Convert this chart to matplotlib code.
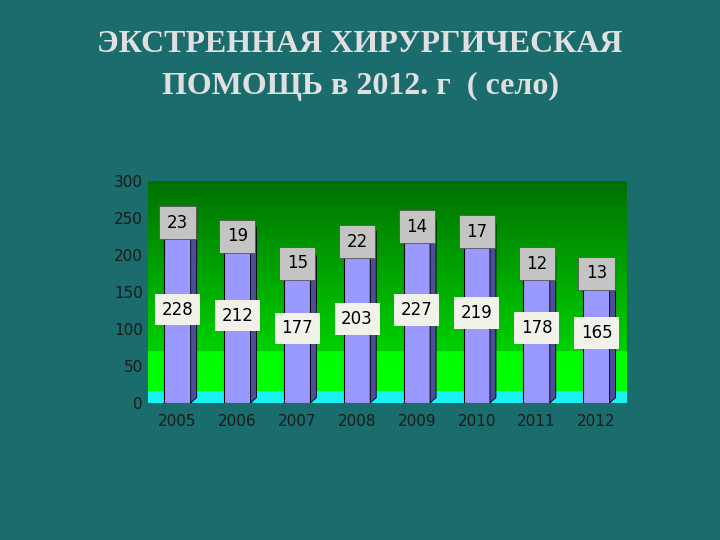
import numpy as np
import matplotlib
matplotlib.use('Agg')
import matplotlib.pyplot as plt
from matplotlib.patches import Polygon

years = ['2005', '2006', '2007', '2008', '2009', '2010', '2011', '2012']
lower = [228, 212, 177, 203, 227, 219, 178, 165]
upper = [23, 19, 15, 22, 14, 17, 12, 13]

fig = plt.figure(figsize=(7.2, 5.4), dpi=100)
fig.patch.set_facecolor('#1b6c6c')
fig.text(0.5, 0.945, 'ЭКСТРЕННАЯ ХИРУРГИЧЕСКАЯ\nПОМОЩЬ в 2012. г  ( село)', ha='center', va='top',
         fontsize=23, family='Liberation Serif', fontweight='bold', color='#e0e0e0', linespacing=1.6)

ax = fig.add_axes([0.205, 0.254, 0.665, 0.411])
ax.set_xlim(-0.5, len(years) - 0.5)
ax.set_ylim(0, 300)

# gradient wall
n = 300
cols = np.zeros((n, 1, 3))
for i in range(n):
    v = i
    if v < 16:
        cols[i, 0] = (0.1, 0.95, 0.95)
    elif v < 70:
        cols[i, 0] = (0.0, 1.0, 0.0)
    else:
        t = (v - 70) / 230
        cols[i, 0] = (0.0, 0.82 - 0.38 * t, 0.0)
ax.imshow(cols, extent=[-0.5, len(years) - 0.5, 0, 300], origin='lower', aspect='auto', zorder=0)
ax.axhline(70, color='#55bb55', lw=0.8, zorder=0.5)

w = 0.44
dx, dy = 0.1, 7
x = np.arange(len(years))
for xi, lo, up in zip(x, lower, upper):
    ax.bar(xi, lo, width=w, color='#9999ff', edgecolor='black', lw=0.8, zorder=2)
    ax.add_patch(Polygon([(xi + w/2, 0), (xi + w/2 + dx, dy), (xi + w/2 + dx, lo + dy), (xi + w/2, lo)],
                         closed=True, fc='#4d4d99', ec='black', lw=0.6, zorder=2))
    ax.bar(xi, up, bottom=lo, width=w, color='#c8c8c8', edgecolor='black', lw=0.6, zorder=3)
    ax.add_patch(Polygon([(xi + w/2, lo), (xi + w/2 + dx, lo + dy), (xi + w/2 + dx, lo + up + dy), (xi + w/2, lo + up)],
                         closed=True, fc='#6b2030', ec='black', lw=0.6, zorder=3))
    ax.text(xi, lo + up / 2 + 4, str(up), ha='center', va='center', fontsize=12, zorder=4,
            bbox=dict(boxstyle='square,pad=0.45', fc='#c4c4c4', ec='#555555', lw=0.6))
    ax.text(xi, lo / 2 + 12, str(lo), ha='center', va='center', fontsize=12, zorder=4,
            bbox=dict(boxstyle='square,pad=0.4', fc='#f2f2ea', ec='none'))

ax.set_xticks(x)
ax.set_xticklabels(years)
ax.set_yticks(range(0, 301, 50))
ax.tick_params(length=0, colors='#1a1a1a', labelsize=11)
ax.tick_params(axis='x', pad=8)
for s in ax.spines.values():
    s.set_visible(False)

fig.savefig('out.png', dpi=100, facecolor=fig.get_facecolor())
